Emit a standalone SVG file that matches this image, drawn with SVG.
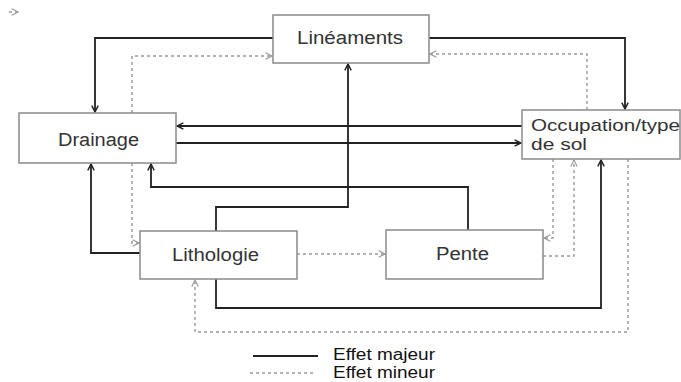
<svg xmlns="http://www.w3.org/2000/svg" width="681" height="382" viewBox="0 0 681 382">
<style>
.box{fill:#fff;stroke:#8a8a8a;stroke-width:1.5}
.lbl{font-family:"Liberation Sans",Arial,sans-serif;font-size:18px;fill:#333}
.maj{fill:none;stroke:#222;stroke-width:1.8}
.min{fill:none;stroke:#999;stroke-width:1.4;stroke-dasharray:3,3}
</style>
<defs>
<marker id="am" viewBox="0 0 10 10" refX="9" refY="5" markerWidth="8" markerHeight="8" markerUnits="userSpaceOnUse" orient="auto">
<path d="M1,1 L9,5 L1,9" fill="none" stroke="#222" stroke-width="1.8"/>
</marker>
<marker id="an" viewBox="0 0 10 10" refX="9" refY="5" markerWidth="8" markerHeight="8" markerUnits="userSpaceOnUse" orient="auto">
<path d="M1,1 L9,5 L1,9" fill="none" stroke="#999" stroke-width="1.4"/>
</marker>
</defs>
<rect width="681" height="382" fill="#fff"/>
<g id="connectors">
<path class="min" d="M9,12 H18" marker-end="url(#an)"/>
<path class="maj" d="M273,38 H95 V112" marker-end="url(#am)"/>
<path class="min" d="M132,113 V56 H272" marker-end="url(#an)"/>
<path class="min" d="M132,163 V243 H139" marker-end="url(#an)"/>
<path class="maj" d="M522,126 H177" marker-end="url(#am)"/>
<path class="maj" d="M176,143 H521" marker-end="url(#am)"/>
<path class="maj" d="M468,230 V187 H151 V164" marker-end="url(#am)"/>
<path class="maj" d="M216,231 V207 H348 V64" marker-end="url(#am)"/>
<path class="maj" d="M140,253 H91 V164" marker-end="url(#am)"/>
<path class="maj" d="M429,38 H625 V109" marker-end="url(#am)"/>
<path class="min" d="M587,110 V54 H430" marker-end="url(#an)"/>
<path class="min" d="M297,254 H385" marker-end="url(#an)"/>
<path class="min" d="M553,159 V238 H544" marker-end="url(#an)"/>
<path class="min" d="M543,256 H574 V160" marker-end="url(#an)"/>
<path class="maj" d="M216,279 V308 H601 V160" marker-end="url(#am)"/>
<path class="min" d="M628,159 V332 H195 V280" marker-end="url(#an)"/>
</g>
<g id="lineaments">
<rect class="box" x="273" y="15" width="156" height="48"/>
<text class="lbl" x="297" y="44" textLength="106" lengthAdjust="spacingAndGlyphs">Linéaments</text>
</g>
<g id="drainage">
<rect class="box" x="19" y="113" width="157" height="50"/>
<text class="lbl" x="58" y="146" textLength="81" lengthAdjust="spacingAndGlyphs">Drainage</text>
</g>
<g id="occupation">
<rect class="box" x="522" y="110" width="158" height="49"/>
<text class="lbl" x="531" y="131" textLength="149" lengthAdjust="spacingAndGlyphs" style="font-size:17px">Occupation/type</text>
<text class="lbl" x="531" y="150" textLength="56" lengthAdjust="spacingAndGlyphs" style="font-size:17px">de sol</text>
</g>
<g id="lithologie">
<rect class="box" x="140" y="231" width="157" height="48"/>
<text class="lbl" x="172" y="261" textLength="87" lengthAdjust="spacingAndGlyphs">Lithologie</text>
</g>
<g id="pente">
<rect class="box" x="386" y="230" width="157" height="49"/>
<text class="lbl" x="436" y="260" textLength="53" lengthAdjust="spacingAndGlyphs">Pente</text>
</g>
<g id="legend">
<line x1="253" y1="356" x2="318" y2="356" stroke="#222" stroke-width="1.8"/>
<line x1="250" y1="373" x2="315" y2="373" stroke="#999" stroke-width="1.4" stroke-dasharray="3,3"/>
<text class="lbl" x="333" y="360" textLength="102" lengthAdjust="spacingAndGlyphs" style="font-size:16px;fill:#111">Effet majeur</text>
<text class="lbl" x="333" y="378" textLength="102" lengthAdjust="spacingAndGlyphs" style="font-size:16px;fill:#111">Effet mineur</text>
</g>
</svg>
